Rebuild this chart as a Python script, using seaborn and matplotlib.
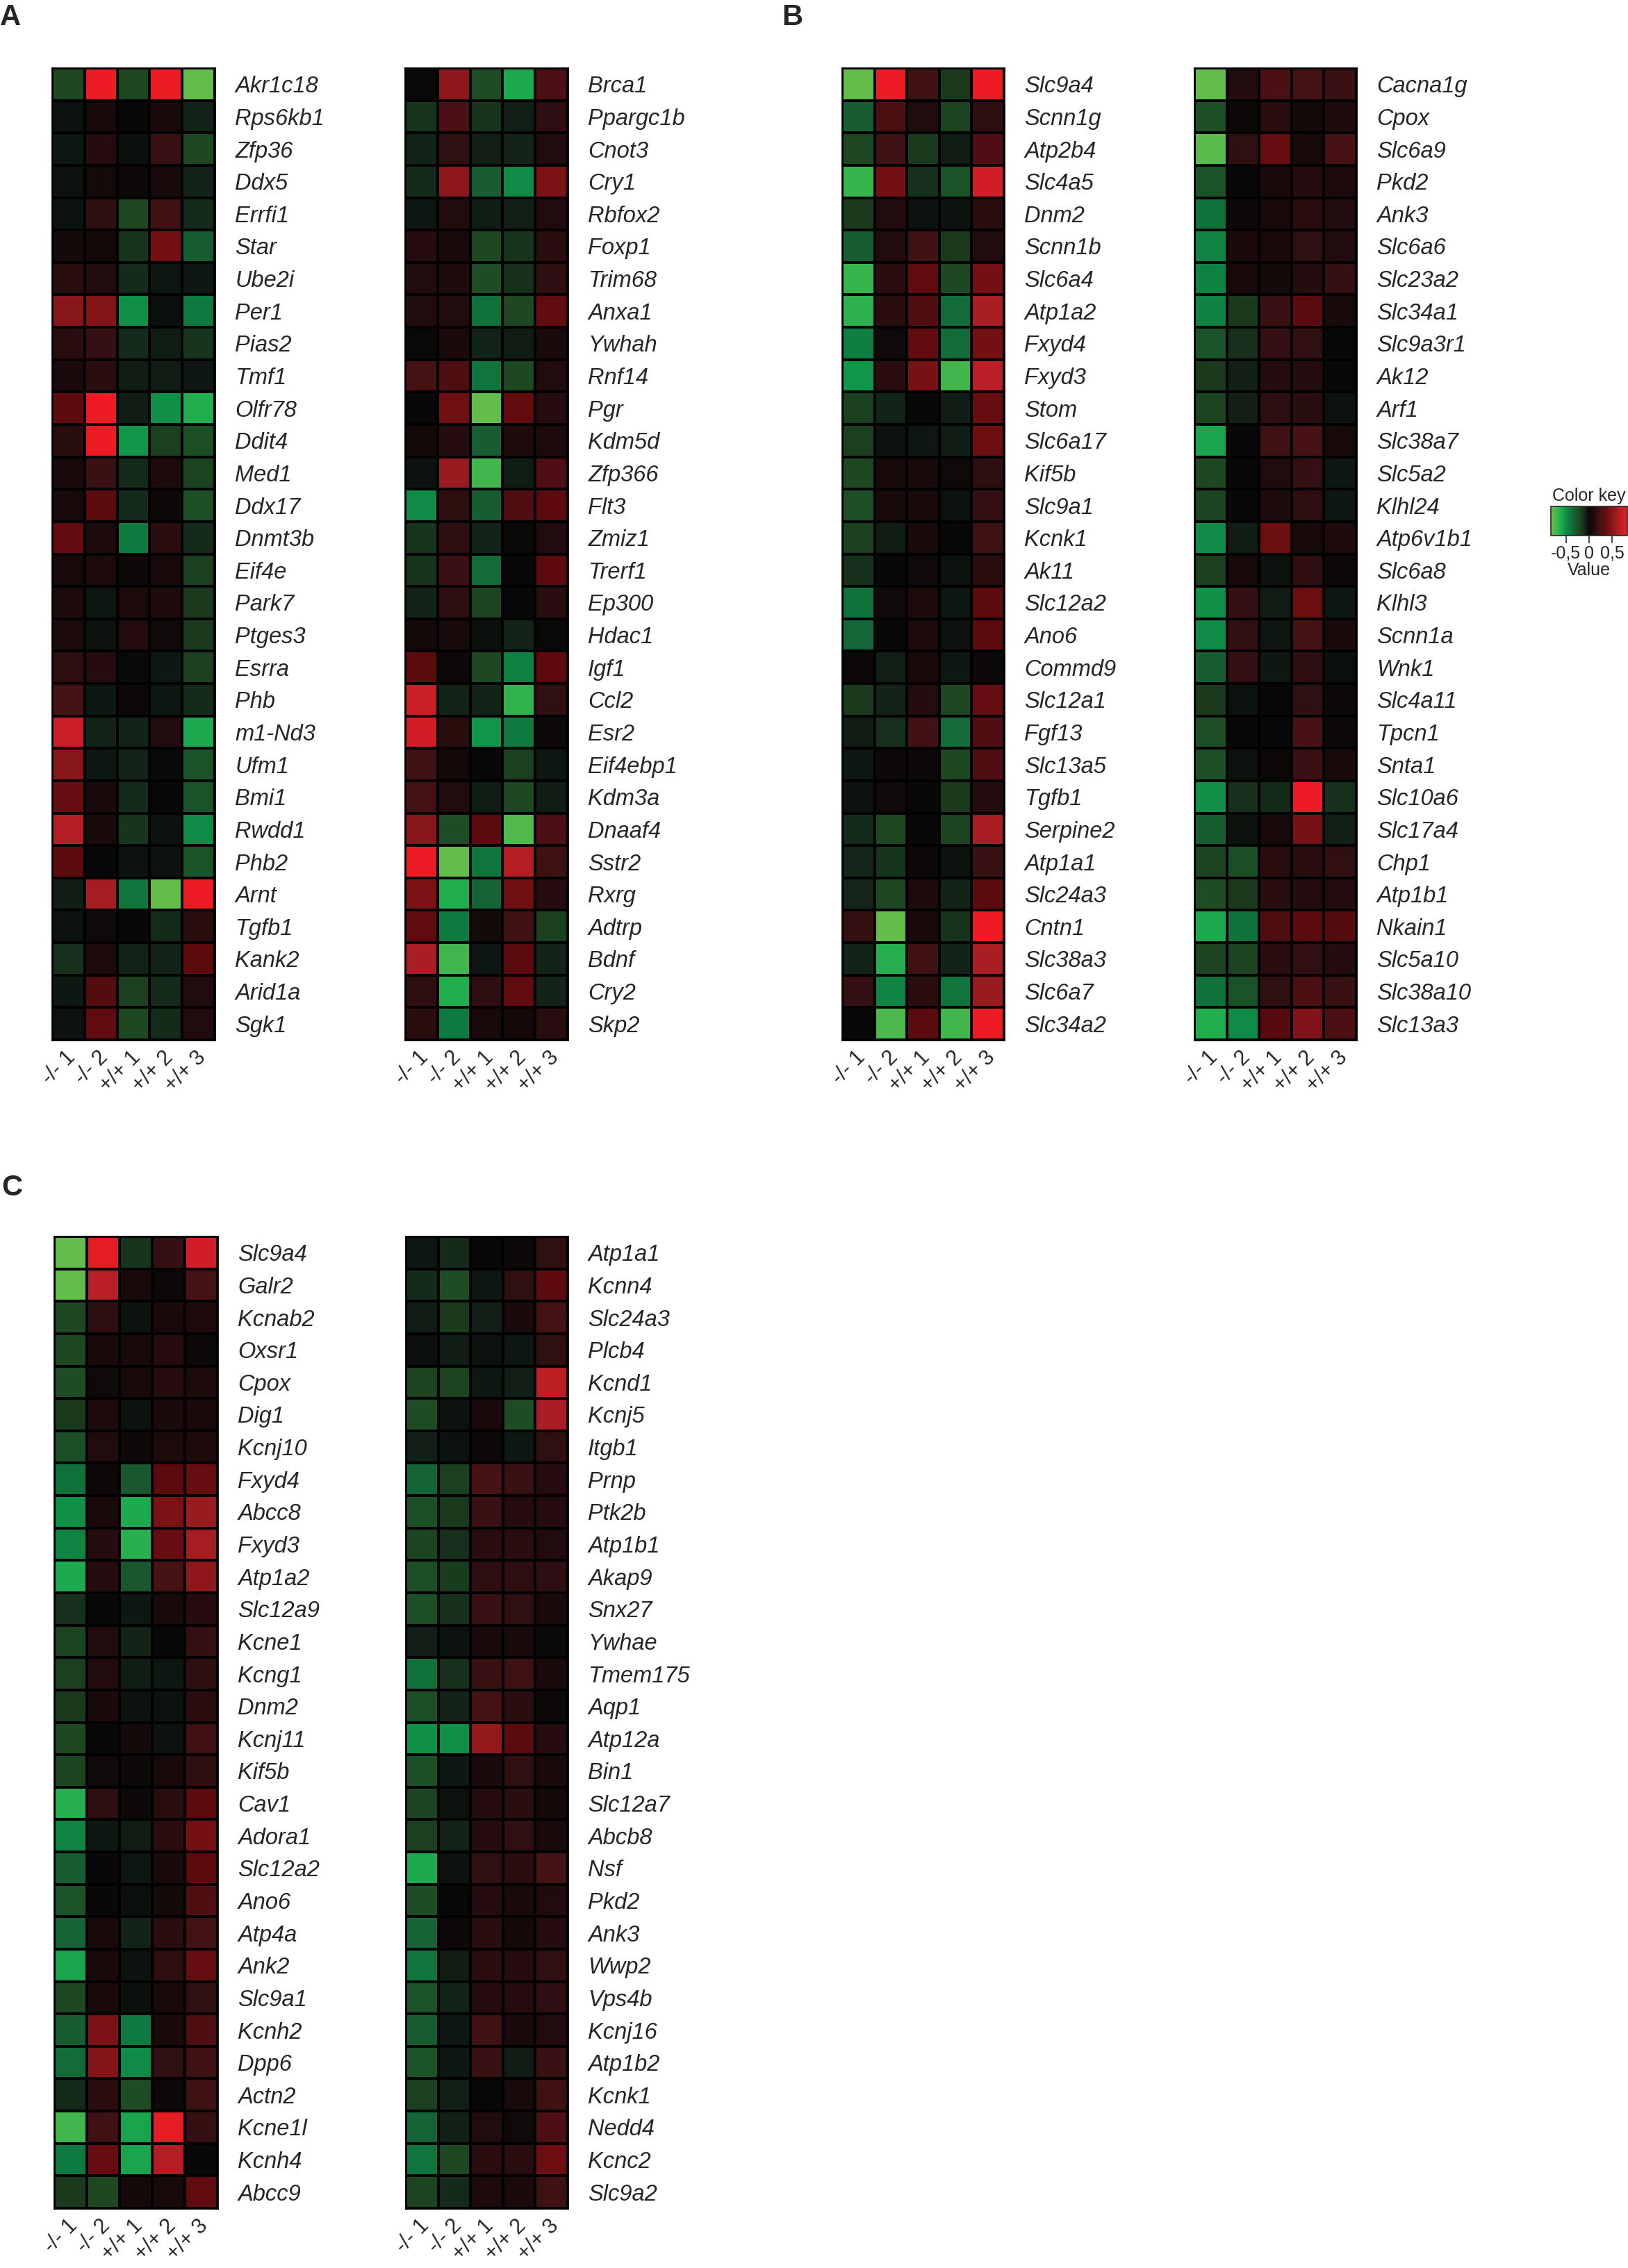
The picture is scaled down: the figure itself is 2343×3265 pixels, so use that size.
import numpy as np
import pandas as pd
import seaborn as sns
import matplotlib
matplotlib.use("Agg")
from matplotlib import pyplot as plt
from matplotlib.colors import LinearSegmentedColormap
from matplotlib.cm import ScalarMappable
from matplotlib.colors import Normalize

sns.set_style("white")
plt.rcParams['font.family'] = ['Liberation Sans', 'DejaVu Sans']

samples = ["-/- 1", "-/- 2", "+/+ 1", "+/+ 2", "+/+ 3"]

# panel A, left
genes_a1 = ["Akr1c18", "Rps6kb1", "Zfp36", "Ddx5", "Errfi1", "Star", "Ube2i", "Per1", "Pias2", "Tmf1",
            "Olfr78", "Ddit4", "Med1", "Ddx17", "Dnmt3b", "Eif4e", "Park7", "Ptges3", "Esrra", "Phb",
            "m1-Nd3", "Ufm1", "Bmi1", "Rwdd1", "Phb2", "Arnt", "Tgfb1", "Kank2", "Arid1a", "Sgk1"]
vals_a1 = [
    [-0.22, 0.83, -0.22, 0.83, -0.80],
    [-0.03, 0.06, 0.00, 0.06, -0.08],
    [-0.05, 0.12, -0.02, 0.20, -0.22],
    [-0.03, 0.05, 0.02, 0.06, -0.08],
    [-0.03, 0.15, -0.22, 0.22, -0.10],
    [0.05, 0.04, -0.13, 0.42, -0.30],
    [0.13, 0.10, -0.10, -0.04, -0.05],
    [0.50, 0.48, -0.50, -0.02, -0.42],
    [0.14, 0.18, -0.10, -0.06, -0.13],
    [0.07, 0.13, -0.06, -0.06, -0.05],
    [0.33, 0.83, -0.06, -0.50, -0.62],
    [0.14, 0.83, -0.52, -0.17, -0.25],
    [0.06, 0.20, -0.10, 0.08, -0.20],
    [0.06, 0.32, -0.10, 0.02, -0.25],
    [0.35, 0.08, -0.42, 0.13, -0.10],
    [0.06, 0.08, 0.02, 0.06, -0.18],
    [0.08, -0.04, 0.08, 0.09, -0.15],
    [0.08, -0.03, 0.12, 0.03, -0.15],
    [0.15, 0.12, -0.01, -0.05, -0.17],
    [0.25, -0.05, 0.02, -0.05, -0.10],
    [0.72, -0.08, -0.08, 0.10, -0.60],
    [0.50, -0.05, -0.08, -0.01, -0.26],
    [0.37, 0.07, -0.10, 0.00, -0.26],
    [0.65, 0.07, -0.13, -0.03, -0.48],
    [0.33, 0.00, -0.03, -0.03, -0.26],
    [-0.06, 0.60, -0.40, -0.80, 0.83],
    [-0.03, 0.03, 0.00, -0.10, 0.13],
    [-0.12, 0.08, -0.08, -0.08, 0.33],
    [-0.05, 0.30, -0.17, -0.10, 0.10],
    [-0.03, 0.34, -0.22, -0.10, 0.10],
]

# panel A, right
genes_a2 = ["Brca1", "Ppargc1b", "Cnot3", "Cry1", "Rbfox2", "Foxp1", "Trim68", "Anxa1", "Ywhah", "Rnf14",
            "Pgr", "Kdm5d", "Zfp366", "Flt3", "Zmiz1", "Trerf1", "Ep300", "Hdac1", "Igf1", "Ccl2",
            "Esr2", "Eif4ebp1", "Kdm3a", "Dnaaf4", "Sstr2", "Rxrg", "Adtrp", "Bdnf", "Cry2", "Skp2"]
vals_a2 = [
    [0.01, 0.52, -0.24, -0.60, 0.26],
    [-0.13, 0.26, -0.13, -0.07, 0.15],
    [-0.08, 0.16, -0.07, -0.08, 0.10],
    [-0.10, 0.52, -0.30, -0.48, 0.45],
    [-0.04, 0.10, -0.06, -0.07, 0.10],
    [0.12, 0.06, -0.22, -0.13, 0.14],
    [0.11, 0.09, -0.24, -0.12, 0.15],
    [0.11, 0.10, -0.38, -0.22, 0.35],
    [0.01, 0.07, -0.08, -0.06, 0.07],
    [0.25, 0.28, -0.40, -0.22, 0.10],
    [0.00, 0.40, -0.80, 0.35, 0.12],
    [0.05, 0.12, -0.30, 0.09, 0.08],
    [-0.03, 0.56, -0.70, -0.06, 0.28],
    [-0.48, 0.15, -0.30, 0.28, 0.32],
    [-0.13, 0.15, -0.08, 0.01, 0.10],
    [-0.13, 0.20, -0.36, 0.00, 0.32],
    [-0.08, 0.15, -0.20, 0.00, 0.14],
    [0.05, 0.06, -0.02, -0.08, 0.01],
    [0.33, 0.02, -0.22, -0.45, 0.32],
    [0.72, -0.08, -0.08, -0.66, 0.16],
    [0.74, 0.14, -0.52, -0.42, 0.02],
    [0.22, 0.05, 0.00, -0.17, -0.05],
    [0.24, 0.10, -0.06, -0.22, -0.06],
    [0.50, -0.24, 0.32, -0.75, 0.26],
    [0.83, -0.80, -0.40, 0.65, 0.22],
    [0.45, -0.62, -0.32, 0.40, 0.12],
    [0.34, -0.42, 0.05, 0.22, -0.18],
    [0.62, -0.70, -0.04, 0.32, -0.08],
    [0.15, -0.62, 0.15, 0.34, -0.08],
    [0.13, -0.42, 0.06, 0.04, 0.13],
]

# panel B, left
genes_b1 = ["Slc9a4", "Scnn1g", "Atp2b4", "Slc4a5", "Dnm2", "Scnn1b", "Slc6a4", "Atp1a2", "Fxyd4", "Fxyd3",
            "Stom", "Slc6a17", "Kif5b", "Slc9a1", "Kcnk1", "Ak11", "Slc12a2", "Ano6", "Commd9", "Slc12a1",
            "Fgf13", "Slc13a5", "Tgfb1", "Serpine2", "Atp1a1", "Slc24a3", "Cntn1", "Slc38a3", "Slc6a7", "Slc34a2"]
vals_b1 = [
    [-0.80, 0.83, 0.22, -0.15, 0.83],
    [-0.30, 0.27, 0.10, -0.20, 0.15],
    [-0.22, 0.22, -0.15, -0.06, 0.28],
    [-0.68, 0.42, -0.12, -0.26, 0.74],
    [-0.15, 0.10, -0.03, -0.03, 0.14],
    [-0.30, 0.10, 0.22, -0.15, 0.10],
    [-0.68, 0.14, 0.35, -0.22, 0.42],
    [-0.65, 0.13, 0.28, -0.36, 0.62],
    [-0.44, 0.03, 0.35, -0.36, 0.42],
    [-0.52, 0.14, 0.43, -0.70, 0.67],
    [-0.18, -0.08, 0.00, -0.06, 0.36],
    [-0.17, -0.03, -0.05, -0.06, 0.39],
    [-0.22, 0.06, 0.06, 0.03, 0.15],
    [-0.25, 0.06, 0.07, -0.03, 0.18],
    [-0.18, -0.06, 0.06, 0.00, 0.22],
    [-0.12, 0.00, 0.03, -0.03, 0.13],
    [-0.38, 0.03, 0.08, -0.05, 0.33],
    [-0.34, 0.00, 0.08, -0.03, 0.32],
    [0.02, -0.07, 0.07, -0.05, 0.02],
    [-0.15, -0.08, 0.12, -0.22, 0.36],
    [-0.06, -0.12, 0.23, -0.36, 0.28],
    [-0.05, 0.02, 0.02, -0.22, 0.28],
    [-0.03, 0.03, 0.00, -0.15, 0.12],
    [-0.10, -0.22, 0.00, -0.20, 0.62],
    [-0.09, -0.13, 0.02, -0.03, 0.20],
    [-0.09, -0.22, 0.08, -0.08, 0.33],
    [0.18, -0.80, 0.06, -0.13, 0.83],
    [-0.08, -0.63, 0.22, -0.08, 0.62],
    [0.18, -0.46, 0.13, -0.40, 0.56],
    [0.00, -0.72, 0.32, -0.70, 0.83],
]

# panel B, right
genes_b2 = ["Cacna1g", "Cpox", "Slc6a9", "Pkd2", "Ank3", "Slc6a6", "Slc23a2", "Slc34a1", "Slc9a3r1", "Ak12",
            "Arf1", "Slc38a7", "Slc5a2", "Klhl24", "Atp6v1b1", "Slc6a8", "Klhl3", "Scnn1a", "Wnk1", "Slc4a11",
            "Tpcn1", "Snta1", "Slc10a6", "Slc17a4", "Chp1", "Atp1b1", "Nkain1", "Slc5a10", "Slc38a10", "Slc13a3"]
vals_b2 = [
    [-0.80, 0.11, 0.26, 0.24, 0.20],
    [-0.25, 0.01, 0.14, 0.05, 0.09],
    [-0.77, 0.16, 0.36, 0.06, 0.25],
    [-0.26, 0.00, 0.07, 0.12, 0.08],
    [-0.38, 0.02, 0.06, 0.14, 0.11],
    [-0.46, 0.07, 0.06, 0.16, 0.11],
    [-0.45, 0.06, 0.05, 0.12, 0.18],
    [-0.45, -0.15, 0.20, 0.33, 0.06],
    [-0.26, -0.12, 0.18, 0.16, 0.00],
    [-0.15, -0.07, 0.12, 0.12, 0.00],
    [-0.20, -0.07, 0.15, 0.14, -0.03],
    [-0.58, 0.00, 0.22, 0.25, 0.06],
    [-0.22, 0.00, 0.10, 0.18, -0.05],
    [-0.20, 0.00, 0.09, 0.15, -0.05],
    [-0.48, -0.06, 0.38, 0.06, 0.09],
    [-0.18, 0.06, -0.03, 0.15, 0.02],
    [-0.50, 0.18, -0.06, 0.38, -0.05],
    [-0.48, 0.16, -0.04, 0.24, 0.07],
    [-0.30, 0.18, -0.05, 0.15, -0.02],
    [-0.15, -0.03, 0.00, 0.16, 0.02],
    [-0.25, 0.00, 0.00, 0.25, 0.02],
    [-0.25, -0.03, 0.02, 0.20, 0.07],
    [-0.50, -0.12, -0.10, 0.83, -0.12],
    [-0.30, -0.03, 0.06, 0.43, -0.07],
    [-0.20, -0.25, 0.14, 0.14, 0.16],
    [-0.24, -0.15, 0.13, 0.12, 0.12],
    [-0.60, -0.38, 0.28, 0.32, 0.30],
    [-0.20, -0.20, 0.14, 0.16, 0.12],
    [-0.38, -0.26, 0.16, 0.27, 0.20],
    [-0.62, -0.48, 0.31, 0.47, 0.26],
]

# panel C, left
genes_c1 = ["Slc9a4", "Galr2", "Kcnab2", "Oxsr1", "Cpox", "Dig1", "Kcnj10", "Fxyd4", "Abcc8", "Fxyd3",
            "Atp1a2", "Slc12a9", "Kcne1", "Kcng1", "Dnm2", "Kcnj11", "Kif5b", "Cav1", "Adora1", "Slc12a2",
            "Ano6", "Atp4a", "Ank2", "Slc9a1", "Kcnh2", "Dpp6", "Actn2", "Kcne1l", "Kcnh4", "Abcc9"]
vals_c1 = [
    [-0.80, 0.80, -0.13, 0.18, 0.74],
    [-0.80, 0.67, 0.06, 0.02, 0.25],
    [-0.22, 0.15, -0.03, 0.06, 0.08],
    [-0.22, 0.06, 0.06, 0.12, 0.02],
    [-0.24, 0.03, 0.06, 0.12, 0.08],
    [-0.15, 0.08, -0.03, 0.07, 0.06],
    [-0.25, 0.10, 0.02, 0.08, 0.08],
    [-0.38, 0.02, -0.28, 0.32, 0.36],
    [-0.50, 0.07, -0.60, 0.45, 0.57],
    [-0.46, 0.12, -0.64, 0.36, 0.60],
    [-0.60, 0.12, -0.28, 0.25, 0.52],
    [-0.12, 0.00, -0.05, 0.06, 0.12],
    [-0.20, 0.10, -0.08, 0.00, 0.18],
    [-0.17, 0.10, -0.06, -0.04, 0.15],
    [-0.15, 0.07, -0.03, -0.03, 0.14],
    [-0.22, 0.00, 0.05, -0.03, 0.22],
    [-0.20, 0.03, 0.02, 0.06, 0.15],
    [-0.63, 0.15, 0.02, 0.13, 0.32],
    [-0.46, -0.05, -0.06, 0.13, 0.42],
    [-0.30, 0.00, -0.04, 0.07, 0.32],
    [-0.26, 0.00, -0.02, 0.05, 0.28],
    [-0.32, 0.06, -0.08, 0.14, 0.24],
    [-0.58, 0.06, -0.03, 0.15, 0.36],
    [-0.22, 0.06, -0.02, 0.06, 0.16],
    [-0.30, 0.45, -0.42, 0.06, 0.28],
    [-0.36, 0.48, -0.48, 0.16, 0.22],
    [-0.10, 0.13, -0.24, 0.02, 0.22],
    [-0.70, 0.22, -0.58, 0.80, 0.18],
    [-0.42, 0.36, -0.58, 0.65, 0.00],
    [-0.15, -0.22, 0.05, 0.06, 0.34],
]

# panel C, right
genes_c2 = ["Atp1a1", "Kcnn4", "Slc24a3", "Plcb4", "Kcnd1", "Kcnj5", "Itgb1", "Prnp", "Ptk2b", "Atp1b1",
            "Akap9", "Snx27", "Ywhae", "Tmem175", "Aqp1", "Atp12a", "Bin1", "Slc12a7", "Abcb8", "Nsf",
            "Pkd2", "Ank3", "Wwp2", "Vps4b", "Kcnj16", "Atp1b2", "Kcnk1", "Nedd4", "Kcnc2", "Slc9a2"]
vals_c2 = [
    [-0.05, -0.10, 0.00, 0.02, 0.16],
    [-0.10, -0.24, -0.04, 0.16, 0.33],
    [-0.06, -0.15, -0.07, 0.07, 0.24],
    [-0.02, -0.06, -0.03, -0.05, 0.16],
    [-0.20, -0.20, -0.05, -0.07, 0.68],
    [-0.24, -0.03, 0.06, -0.24, 0.62],
    [-0.07, -0.03, 0.02, -0.05, 0.16],
    [-0.33, -0.18, 0.25, 0.20, 0.12],
    [-0.25, -0.15, 0.20, 0.12, 0.12],
    [-0.20, -0.12, 0.14, 0.14, 0.10],
    [-0.25, -0.16, 0.15, 0.15, 0.15],
    [-0.25, -0.12, 0.20, 0.16, 0.06],
    [-0.07, -0.03, 0.06, 0.06, -0.01],
    [-0.38, -0.12, 0.20, 0.22, 0.07],
    [-0.25, -0.08, 0.24, 0.14, 0.02],
    [-0.50, -0.50, 0.54, 0.33, 0.12],
    [-0.25, -0.05, 0.07, 0.16, 0.06],
    [-0.20, -0.03, 0.12, 0.14, 0.05],
    [-0.17, -0.08, 0.12, 0.16, 0.06],
    [-0.60, -0.03, 0.16, 0.13, 0.25],
    [-0.24, 0.00, 0.12, 0.07, 0.10],
    [-0.32, 0.02, 0.14, 0.05, 0.12],
    [-0.40, -0.06, 0.14, 0.12, 0.16],
    [-0.26, -0.08, 0.12, 0.12, 0.15],
    [-0.30, -0.05, 0.22, 0.06, 0.10],
    [-0.26, -0.05, 0.20, -0.06, 0.20],
    [-0.17, -0.07, 0.00, 0.06, 0.22],
    [-0.32, -0.07, 0.10, 0.03, 0.27],
    [-0.40, -0.22, 0.13, 0.13, 0.39],
    [-0.20, -0.10, 0.08, 0.07, 0.22],
]

# colour scale (green - black - red)
vmin, vmax = -0.83, 0.83
key_vals = [-0.83, -0.72, -0.62, -0.52, -0.42, -0.32, -0.24, -0.16, -0.08, 0.0,
            0.06, 0.12, 0.18, 0.25, 0.32, 0.38, 0.45, 0.52, 0.62, 0.72, 0.83]
key_cols = ["#6ABF4B", "#48B84C", "#20AE4E", "#109448", "#0E7A3F", "#156236", "#1E4C24", "#1A3C1E",
            "#122318", "#080808", "#180A0A", "#250C0E", "#351012", "#461214", "#5A0A0E", "#6A0E10",
            "#7A1216", "#8C181C", "#A81E22", "#C81F26", "#ED1C24"]
cmap = LinearSegmentedColormap.from_list(
    "gkr", [((v - vmin) / (vmax - vmin), c) for v, c in zip(key_vals, key_cols)])

W, H = 2343, 3265
fig = plt.figure(figsize=(W / 100, H / 100), dpi=100)


def px_axes(x0, y0, x1, y1):
    return fig.add_axes([x0 / W, 1 - y1 / H, (x1 - x0) / W, (y1 - y0) / H])


def draw_heatmap(ax, genes, vals):
    df = pd.DataFrame(vals, index=genes, columns=samples)
    sns.heatmap(df, ax=ax, cmap=cmap, vmin=vmin, vmax=vmax, cbar=False,
                linewidths=1.6, linecolor='black', xticklabels=False, yticklabels=True)
    ax.yaxis.tick_right()
    ax.tick_params(axis='y', length=0, pad=21, labelsize=23.5, labelrotation=0)
    for lbl in ax.get_yticklabels():
        lbl.set_style('italic')
        lbl.set_ha('left')
    ax.set_xticks([])
    ax.set_xlabel('')
    ax.set_ylabel('')
    for s in ax.spines.values():
        s.set_visible(True)
        s.set_linewidth(2)
        s.set_color('black')
    n = len(genes)
    # sample labels under each column, rotated 45 degrees
    for j, lab in enumerate(samples):
        ax.text(j + 0.62, n + 0.45, lab, rotation=45, ha='right', va='center',
                rotation_mode='anchor', fontsize=22, clip_on=False)


panels = [
    ((75, 98, 309, 1497), genes_a1, vals_a1),
    ((583, 98, 817, 1497), genes_a2, vals_a2),
    ((1212, 98, 1445, 1497), genes_b1, vals_b1),
    ((1719, 98, 1952, 1497), genes_b2, vals_b2),
    ((78, 1780, 313, 3179), genes_c1, vals_c1),
    ((584, 1780, 817, 3179), genes_c2, vals_c2),
]
for box, genes, vals in panels:
    ax = px_axes(*box)
    draw_heatmap(ax, genes, vals)

# panel letters
fig.text(0 / W, 1 - 5 / H, "A", fontsize=30, fontweight='bold', va='top', ha='left')
fig.text(1125 / W, 1 - 5 / H, "B", fontsize=30, fontweight='bold', va='top', ha='left')
fig.text(2 / W, 1 - 1690 / H, "C", fontsize=30, fontweight='bold', va='top', ha='left')

# colour key
cax = px_axes(2232, 729, 2342, 771)
sm = ScalarMappable(norm=Normalize(vmin=vmin, vmax=vmax), cmap=cmap)
cb = fig.colorbar(sm, cax=cax, orientation='horizontal')
cb.set_ticks([-0.5, 0, 0.5])
cb.set_ticklabels(["-0,5", "0", "0,5"])
cax.tick_params(axis='x', length=8, width=1.2, labelsize=18, pad=2)
cb.outline.set_linewidth(1.2)
cax.set_title("Color key", fontsize=18, pad=6)
cax.set_xlabel("Value", fontsize=18, labelpad=0)

fig.savefig("out.png", dpi=100)
